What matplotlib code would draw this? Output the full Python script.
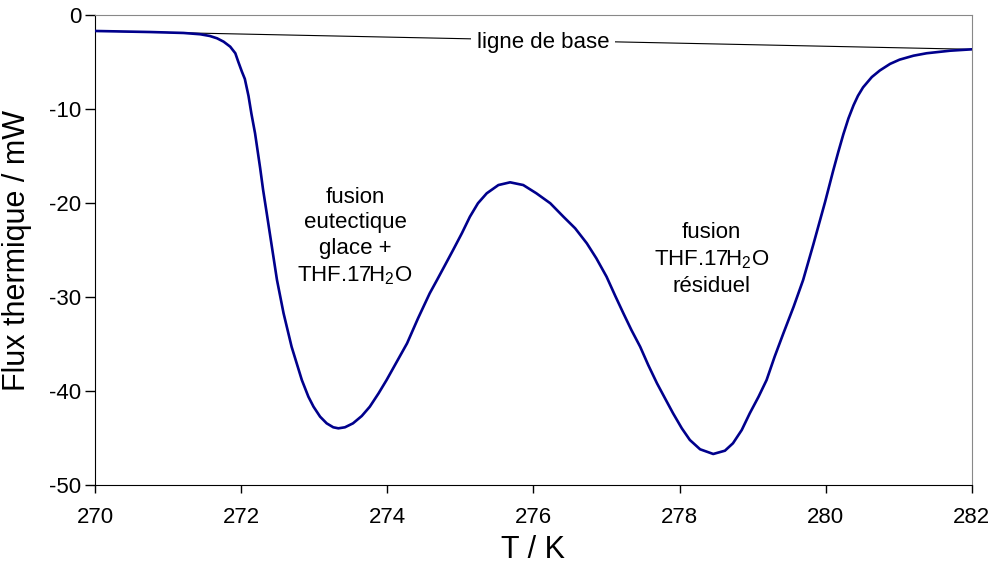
import matplotlib.pyplot as plt

plt.rcParams['font.family'] = ['Liberation Sans', 'DejaVu Sans']
plt.rcParams['mathtext.fontset'] = 'custom'
plt.rcParams['mathtext.rm'] = 'Liberation Sans'
plt.rcParams['mathtext.it'] = 'Liberation Sans:italic'
plt.rcParams['axes.unicode_minus'] = False

# DSC trace
temp = [270.00, 270.75, 271.21, 271.44, 271.57, 271.67, 271.76, 271.85, 271.92,
        271.96, 272.01, 272.05, 272.10, 272.14, 272.19, 272.23, 272.26, 272.30,
        272.35, 272.42, 272.49, 272.58, 272.69, 272.83, 272.92, 272.99, 273.08,
        273.17, 273.26, 273.33, 273.42, 273.53, 273.65, 273.76, 273.88, 273.99,
        274.13, 274.27, 274.42, 274.58, 274.68, 274.79, 274.90, 275.02, 275.13,
        275.24, 275.36, 275.52, 275.68, 275.86, 276.04, 276.23, 276.41, 276.57,
        276.73, 276.86, 277.00, 277.12, 277.23, 277.34, 277.46, 277.57, 277.69,
        277.80, 277.91, 278.03, 278.14, 278.28, 278.46, 278.62, 278.73, 278.85,
        278.96, 279.08, 279.19, 279.30, 279.42, 279.56, 279.69, 279.83, 279.99,
        280.03, 280.10, 280.17, 280.24, 280.31, 280.38, 280.44, 280.51, 280.63,
        280.74, 280.88, 281.01, 281.20, 281.38, 281.70, 282.00]
flux = [-1.70, -1.81, -1.91, -2.05, -2.23, -2.48, -2.84, -3.37, -4.07,
        -4.97, -6.03, -6.80, -8.60, -10.50, -12.59, -14.71, -16.30, -18.60,
        -21.10, -24.65, -28.19, -31.73, -35.29, -38.83, -40.61, -41.67, -42.73,
        -43.44, -43.86, -43.97, -43.86, -43.44, -42.66, -41.67, -40.25, -38.83,
        -36.88, -34.93, -32.27, -29.61, -28.19, -26.60, -25.00, -23.22, -21.46,
        -20.03, -18.97, -18.09, -17.80, -18.09, -18.97, -20.03, -21.46, -22.69,
        -24.29, -25.88, -27.84, -29.90, -31.73, -33.51, -35.29, -37.23, -39.18,
        -40.78, -42.37, -43.97, -45.21, -46.20, -46.70, -46.35, -45.56, -44.15,
        -42.37, -40.61, -38.83, -36.35, -33.86, -31.03, -28.19, -24.40, -19.90,
        -18.70, -16.60, -14.60, -12.70, -11.00, -9.60, -8.60, -7.70, -6.60,
        -5.90, -5.20, -4.75, -4.33, -4.07, -3.80, -3.65]

base_t = [270.0, 282.0]
base_f = [-1.70, -3.65]

fig = plt.figure(figsize=(9.94, 5.66), dpi=100)
ax = fig.add_axes([0.0956, 0.1431, 0.8822, 0.8304])

ax.plot(base_t, base_f, color='black', linewidth=0.8, zorder=2)
ax.plot(temp, flux, color='#00008c', linewidth=1.9, zorder=3,
        solid_joinstyle='round')

ax.text(276.13, -2.9, 'ligne de base', fontsize=16, ha='center', va='center',
        bbox=dict(facecolor='white', edgecolor='none', pad=4), zorder=4)
ax.text(273.56, -23.6, 'fusion\neutectique\nglace +\nTHF.17H$_2$O', fontsize=16,
        ha='center', va='center', linespacing=1.3, zorder=4)
ax.text(278.44, -26.0, 'fusion\nTHF.17H$_2$O\nrésiduel', fontsize=16,
        ha='center', va='center', linespacing=1.3, zorder=4)

ax.set_xlim(270, 282)
ax.set_ylim(-50, 0)
ax.set_xticks([270, 272, 274, 276, 278, 280, 282])
ax.set_yticks([-50, -40, -30, -20, -10, 0])
ax.tick_params(axis='both', direction='out', labelsize=16, width=1)
ax.tick_params(axis='y', length=7, pad=3)
ax.tick_params(axis='x', length=6, pad=10)
for s in ['top', 'right']:
    ax.spines[s].set_color('#888888')
ax.set_xlabel('T / K', fontsize=22, labelpad=5)
ax.set_ylabel('Flux thermique / mW', fontsize=22, labelpad=12)

fig.savefig('out.png', dpi=100)
